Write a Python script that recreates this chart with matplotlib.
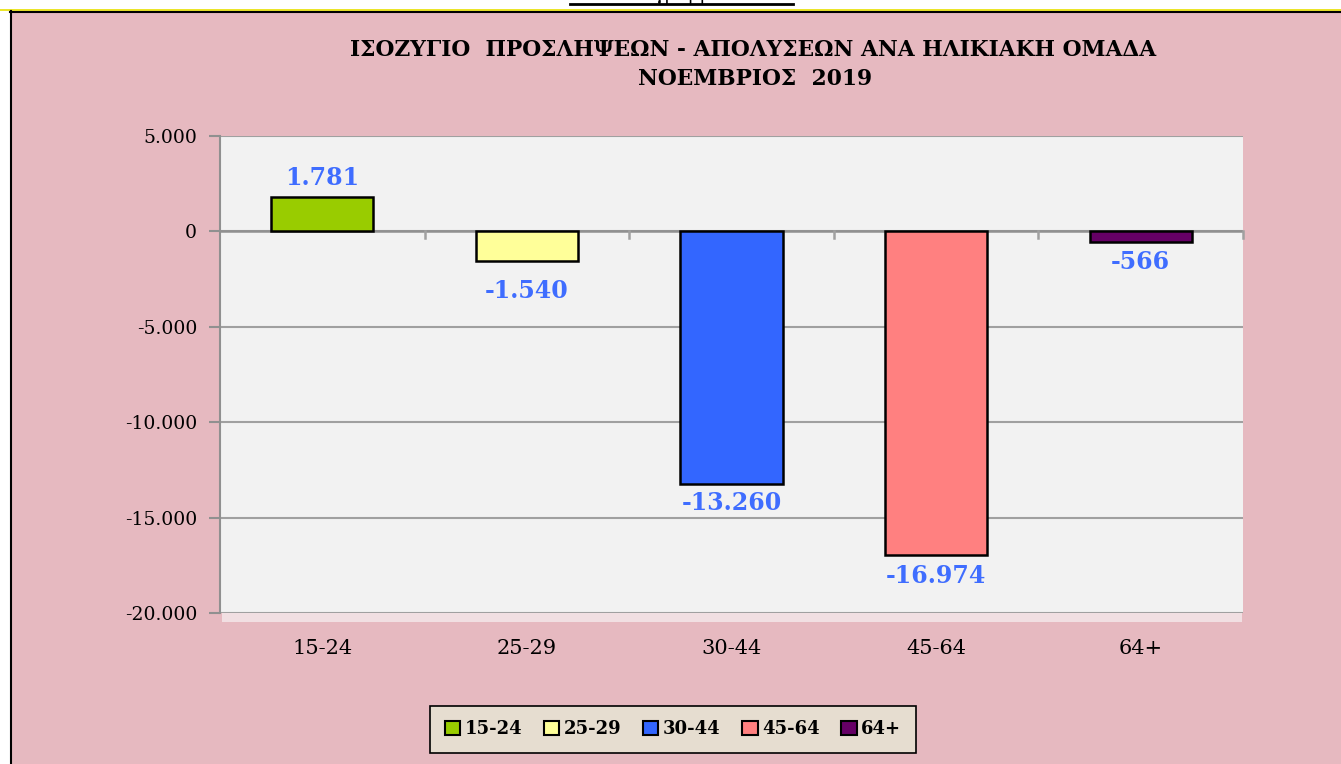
import matplotlib
matplotlib.use("Agg")
import matplotlib.pyplot as plt
from matplotlib.patches import Rectangle, Patch
from matplotlib.lines import Line2D

categories = ["15-24", "25-29", "30-44", "45-64", "64+"]
values = [1781, -1540, -13260, -16974, -566]
colors = ["#99cc00", "#ffff99", "#3366ff", "#ff8080", "#660066"]
yticks = [5000, 0, -5000, -10000, -15000, -20000]
title_lines = ["ΙΣΟΖΥΓΙΟ  ΠΡΟΣΛΗΨΕΩΝ - ΑΠΟΛΥΣΕΩΝ ΑΝΑ ΗΛΙΚΙΑΚΗ ΟΜΑΔΑ", "ΝΟΕΜΒΡΙΟΣ  2019"]
label_offsets = [19, 30, 19, 21, 20]  # px from bar end to label centre

W, H = 1341, 764
FONT = "DejaVu Serif"
PINK = "#e6b9c0"

def fmt(v):
    s = f"{abs(int(v)):,}".replace(",", ".")
    return ("-" if v < 0 else "") + s

fig = plt.figure(figsize=(W / 100, H / 100), dpi=100, facecolor="white")

def fx(px):
    return px / W

def fy(py):
    return 1 - py / H

# chart area background
fig.patches.append(Rectangle((fx(10), 0), 1 - fx(10), fy(11), transform=fig.transFigure,
                             facecolor=PINK, edgecolor="none", zorder=-3))
fig.lines.append(Line2D([0, 1], [fy(10), fy(10)], transform=fig.transFigure, color="#e8e000", lw=1.2))
fig.lines.append(Line2D([fx(10), 1], [fy(11.5), fy(11.5)], transform=fig.transFigure, color="black", lw=1.5))
fig.lines.append(Line2D([fx(10.5), fx(10.5)], [0, fy(11)], transform=fig.transFigure, color="black", lw=1.5))
# cut-off heading above the chart
fig.text(fx(681), fy(0.5), "Διάγραμμα 6", ha="center", va="baseline", fontsize=13, family=FONT)
fig.lines.append(Line2D([fx(570), fx(793)], [fy(4), fy(4)], transform=fig.transFigure, color="black", lw=2))

# white glow below plot area
fig.patches.append(Rectangle((fx(222), fy(622)), fx(1020), fy(613) - fy(622), transform=fig.transFigure,
                             facecolor="#f1dfe2", edgecolor="none", zorder=-2))

ax = fig.add_axes([fx(220), fy(613), fx(1243) - fx(220), fy(136) - fy(613)], zorder=2)
ax.set_facecolor("#f2f2f2")
x = list(range(len(categories)))
ax.bar(x, values, width=0.5, color=colors, edgecolor="black", linewidth=1.8, zorder=3)
ax.set_xlim(-0.5, len(categories) - 0.5)
ax.set_ylim(-20000, 5000)
ax.set_yticks(yticks)
ax.set_yticklabels([fmt(v) for v in yticks], fontsize=13.5, family=FONT)
ax.yaxis.grid(True, color="#a0a0a0", lw=1.5, zorder=0)
ax.set_axisbelow(True)
ax.tick_params(axis="y", length=8, width=1.5, color="#909090", pad=8.5)
for s in ["top", "right", "bottom"]:
    ax.spines[s].set_visible(False)
ax.spines["left"].set_color("#909090")
ax.spines["left"].set_linewidth(1.5)

# category axis at zero with ticks at boundaries
ax.axhline(0, color="#909090", lw=1.8, zorder=2)
for b in [i + 0.5 for i in range(len(categories))]:
    ax.plot([b, b], [0, -330], color="#a0a0a0", lw=1.8, zorder=2, clip_on=False)
ax.set_xticks([])
for xi, c in zip(x, categories):
    ax.annotate(c, (xi, -20000), xytext=(0, -35), textcoords="offset pixels",
                ha="center", va="center", fontsize=15, family=FONT, annotation_clip=False)

for xi, v, off in zip(x, values, label_offsets):
    d = off if v > 0 else -off
    ax.annotate(fmt(v), (xi, v), xytext=(0, d), textcoords="offset pixels",
                ha="center", va="center", fontsize=17, fontweight="bold",
                color="#3f6dff", family=FONT, zorder=5)

fig.text(fx(753), fy(50), title_lines[0], ha="center", va="center", fontsize=15.7,
         fontweight="bold", family=FONT)
fig.text(fx(755), fy(79), title_lines[1], ha="center", va="center", fontsize=15.7,
         fontweight="bold", family=FONT)

handles = [Patch(facecolor=c, edgecolor="black", linewidth=1.5) for c in colors]
leg = fig.legend(handles, categories, loc="center", bbox_to_anchor=(fx(673), fy(729.5)),
                 ncol=5, frameon=True, fancybox=False, handlelength=0.85, handleheight=0.85,
                 handletextpad=0.25, columnspacing=1.2, borderpad=0.8,
                 prop={"family": FONT, "weight": "bold", "size": 13})
leg.get_frame().set_facecolor("#e6ddd0")
leg.get_frame().set_edgecolor("black")
leg.get_frame().set_linewidth(1.2)
leg.get_frame().set_alpha(1)

fig.savefig("out.png", dpi=100, facecolor="white")
